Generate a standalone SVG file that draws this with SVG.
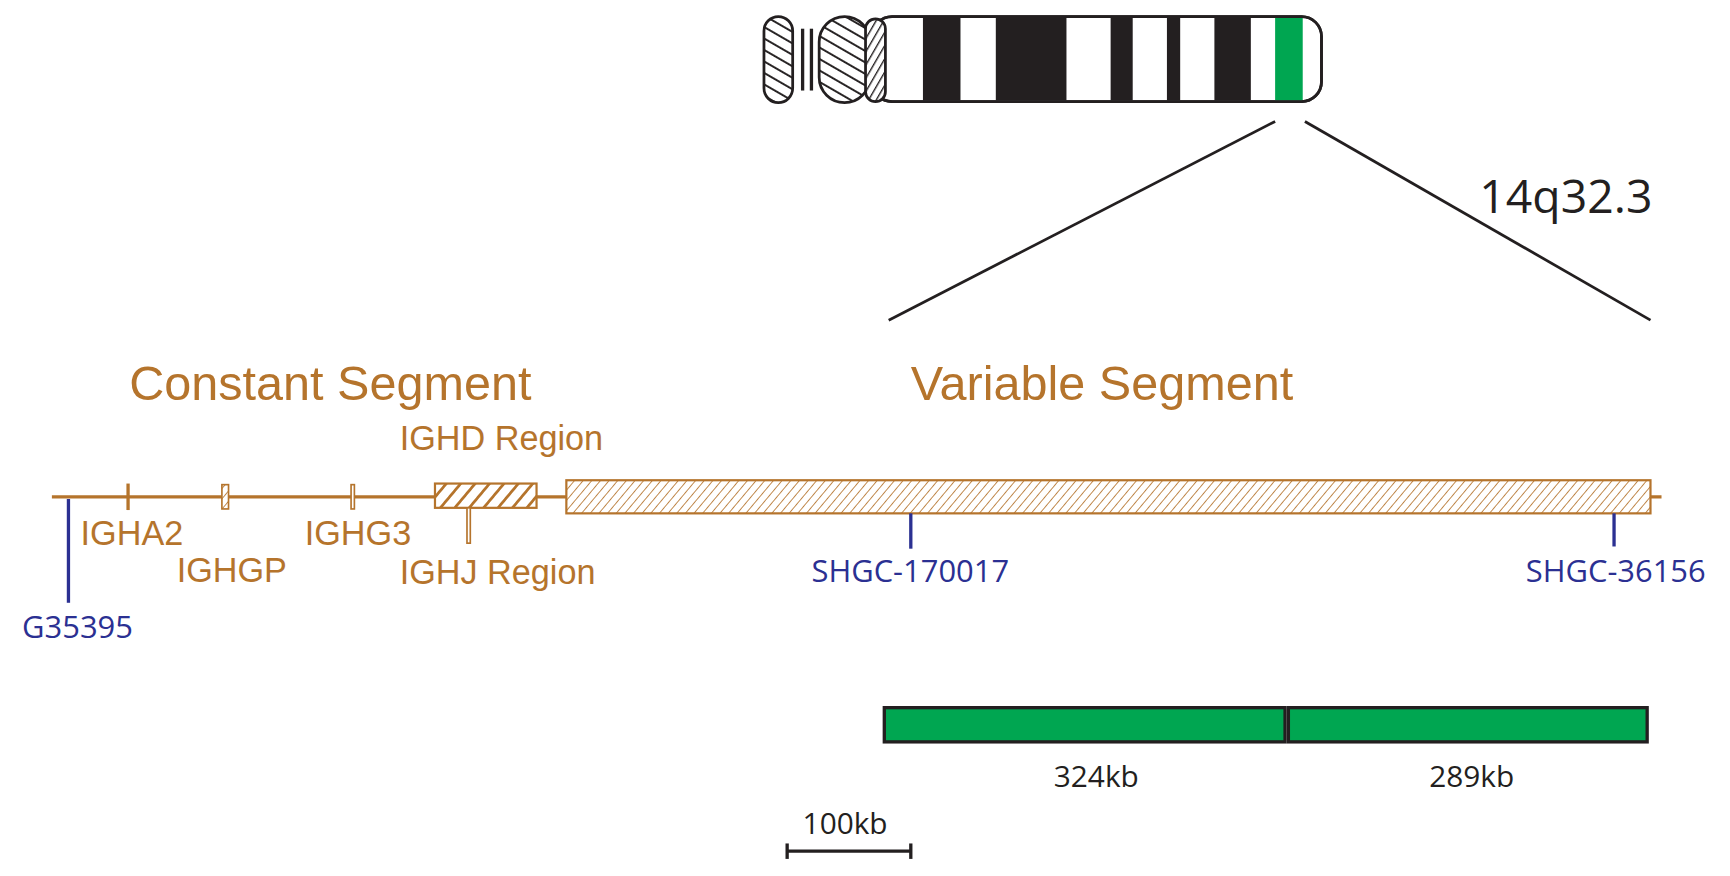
<svg xmlns="http://www.w3.org/2000/svg" width="1730" height="876" viewBox="0 0 1730 876">
<style>
.br{fill:#b5742c;font-family:"Liberation Sans",Arial,sans-serif}
.bl{fill:#2b3092;font-family:"Open Sans",sans-serif;font-size:28px}
.bk{fill:#231f20;font-family:"Open Sans",sans-serif}
.ol{stroke:#231f20;stroke-width:2.5}
</style>
<defs>
<pattern id="h1" width="6" height="6" patternUnits="userSpaceOnUse" patternTransform="rotate(30)"><rect width="6" height="6" fill="#fff"/><line x1="0" y1="0" x2="0" y2="6" stroke="#231f20" stroke-width="2.5"/></pattern>
<pattern id="h2" width="6" height="6" patternUnits="userSpaceOnUse" patternTransform="rotate(40)"><rect width="6" height="6" fill="#fff"/><line x1="0" y1="0" x2="0" y2="6" stroke="#b5742c" stroke-width="1.5"/></pattern>
<pattern id="h3" width="10" height="10" patternUnits="userSpaceOnUse" patternTransform="rotate(40)"><rect width="10" height="10" fill="#fff"/><line x1="0" y1="0" x2="0" y2="10" stroke="#b5742c" stroke-width="5"/></pattern>
<pattern id="hc" width="9" height="9" patternUnits="userSpaceOnUse" patternTransform="rotate(-60)"><rect width="9" height="9" fill="#fff"/><line x1="0" y1="0" x2="0" y2="9" stroke="#231f20" stroke-width="3.5"/></pattern>
</defs>
<rect width="1730" height="876" fill="#fff"/>
<g transform="scale(1.104)">
<g id="chromosome">
<rect x="692" y="15" width="26" height="78" rx="13" fill="url(#hc)" class="ol"/>
<line x1="727" y1="26" x2="727" y2="82" stroke="#231f20" stroke-width="3"/>
<line x1="735" y1="26" x2="735" y2="82" stroke="#231f20" stroke-width="3"/>
<rect x="742" y="15" width="46" height="78" rx="23" fill="url(#hc)" class="ol"/>
<rect x="790" y="15" width="407" height="77" rx="18" fill="#fff" class="ol"/>
<g fill="#231f20"><rect x="836" y="16" width="34" height="75"/><rect x="902" y="16" width="64" height="75"/><rect x="1006" y="16" width="20" height="75"/><rect x="1057" y="16" width="12" height="75"/><rect x="1100" y="16" width="33" height="75"/></g>
<rect x="1155" y="16" width="25" height="75" fill="#00a651"/>
<rect x="790" y="15" width="407" height="77" rx="18" fill="none" class="ol"/>
<rect x="784" y="17" width="18" height="75" rx="9" fill="url(#h1)" class="ol"/>
</g>
<g id="connectors" stroke="#231f20" stroke-width="2.5">
<line x1="1155" y1="110" x2="805" y2="290"/>
<line x1="1182" y1="110" x2="1495" y2="290"/>
</g>
<text x="1340" y="193" class="bk" font-size="42">14q32.3</text>
<text x="117" y="362" class="br" font-size="44">Constant Segment</text>
<text x="825" y="362" class="br" font-size="44">Variable Segment</text>
<g id="locus">
<line x1="47" y1="450" x2="1505" y2="450" stroke="#b5742c" stroke-width="3"/>
<line x1="116" y1="438" x2="116" y2="462" stroke="#b5742c" stroke-width="3"/>
<rect x="201" y="439" width="6" height="22" fill="url(#h2)" stroke="#b5742c" stroke-width="1.5"/>
<rect x="318" y="439" width="3" height="22" fill="#fff" stroke="#b5742c" stroke-width="1.5"/>
<rect x="394" y="438" width="92" height="22" fill="url(#h3)" stroke="#b5742c" stroke-width="2"/>
<rect x="423" y="460" width="3" height="32" fill="#fff" stroke="#b5742c" stroke-width="1.5"/>
<rect x="513" y="435" width="982" height="30" fill="url(#h2)" stroke="#b5742c" stroke-width="2"/>
</g>
<g id="markers" stroke="#2b3092" stroke-width="3">
<line x1="62" y1="452" x2="62" y2="546"/>
<line x1="825" y1="465" x2="825" y2="497"/>
<line x1="1462" y1="465" x2="1462" y2="495"/>
</g>
<g font-size="31">
<text x="362" y="408" class="br">IGHD Region</text>
<text x="73" y="494" class="br">IGHA2</text>
<text x="160" y="527" class="br">IGHGP</text>
<text x="276" y="494" class="br">IGHG3</text>
<text x="362" y="529" class="br">IGHJ Region</text>
</g>
<text x="20" y="578" class="bl">G35395</text>
<text x="735" y="527" class="bl">SHGC-170017</text>
<text x="1382" y="527" class="bl">SHGC-36156</text>
<g id="bars" stroke="#231f20" stroke-width="3" fill="#00a651">
<rect x="801" y="641" width="363" height="31"/>
<rect x="1167" y="641" width="325" height="31"/>
</g>
<text x="993" y="713" class="bk" font-size="27" text-anchor="middle">324kb</text>
<text x="1333" y="713" class="bk" font-size="27" text-anchor="middle">289kb</text>
<g id="scale" stroke="#231f20" stroke-width="3">
<line x1="713" y1="771" x2="825" y2="771"/><line x1="713" y1="764" x2="713" y2="778"/><line x1="825" y1="764" x2="825" y2="778"/>
</g>
<text x="727" y="755" class="bk" font-size="27">100kb</text>
</g>
</svg>
